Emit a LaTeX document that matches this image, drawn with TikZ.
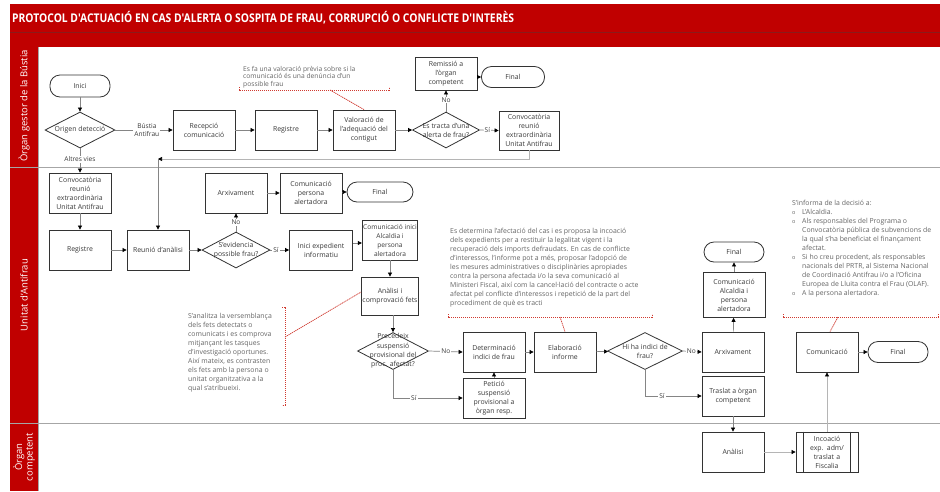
\documentclass[tikz,border=0pt]{standalone}
\usepackage{fontspec}
\setmainfont{Open Sans}
\newfontfamily\titlefont{Open Sans}[FakeStretch=0.86]
\usetikzlibrary{shapes.geometric,arrows.meta,calc}
\definecolor{redband}{HTML}{C00000}
\definecolor{darkred}{HTML}{8A1A1A}
\definecolor{boxc}{HTML}{333333}
\definecolor{txt}{HTML}{3A3A3A}
\definecolor{notec}{HTML}{666666}
\definecolor{connc}{HTML}{858585}
\definecolor{connl}{HTML}{B5B5B5}
\definecolor{lanel}{HTML}{A6A6A6}
\definecolor{dotred}{HTML}{D03A30}
\newcommand\notebul{\makebox[10pt][l]{\fontsize{5.5}{5.5}\selectfont o}}
\newcommand\noteind{\hspace*{10pt}}
\tikzset{
 stepbox/.style={draw=boxc, line width=0.8pt, fill=white, minimum width=62pt, minimum height=40pt, inner sep=1pt, align=center, font=\fontsize{6.9}{9}\selectfont, text=txt},
 termbox/.style={draw=boxc, line width=0.8pt, fill=white, rounded corners=10pt, minimum width=62pt, minimum height=21pt, inner sep=1pt, font=\fontsize{6.9}{9}\selectfont, text=txt},
 decbox/.style={draw=boxc, line width=0.8pt, fill=white, diamond, inner sep=0pt, minimum width=70pt, minimum height=36pt},
 dectext/.style={align=center, font=\fontsize{6.9}{9}\selectfont, text=txt, inner sep=0pt},
 conn/.style={draw=connc, line width=0.7pt, -{Triangle[length=4pt,width=4pt,color=black]}},
 connlight/.style={conn, draw=connl},
 lbl/.style={fill=white, inner sep=1pt, font=\fontsize{6.6}{7.5}\selectfont, text=txt, align=center},
 notetext/.style={align=left, font=\fontsize{6.9}{9}\selectfont, text=notec, inner sep=0pt, anchor=north west},
 notedot/.style={draw=dotred, line width=0.7pt, dash pattern=on 1.3pt off 0.7pt},
 lanetext/.style={rotate=90, text=white, align=center, font=\fontsize{9.5}{10.5}\selectfont},
}
\begin{document}
\begin{tikzpicture}[x=1pt,y=-1pt]
\useasboundingbox (0,0) rectangle (940,491);
\fill[white] (0,0) rectangle (940,491);
% header
\fill[redband] (10,4) rectangle (940,47);
\draw[darkred, line width=0.8pt] (10,32) -- (940,32);
\node[anchor=west, text=white, inner sep=0pt, font=\titlefont\bfseries\fontsize{12}{12}\selectfont] (title) at (12,18) {PROTOCOL D'ACTUACIÓ EN CAS D'ALERTA O SOSPITA DE FRAU, CORRUPCIÓ O CONFLICTE D'INTERÈS};
% lanes
\fill[redband] (10,47) rectangle (38,491);
\draw[lanel, line width=1pt] (10,167) -- (940,167);
\draw[lanel, line width=1pt] (10,423) -- (940,423);
\draw[lanel, line width=0.8pt] (38,47) -- (38,491);
\node[lanetext] (lane1) at (24,106) {Òrgan gestor de la Bústia};
\node[lanetext] (lane2) at (24,295) {Unitat d'Antifrau};
\node[lanetext] (lane3) at (24,457) {Òrgan\\competent};

% ---------- lane 1
\node[termbox, minimum width=60pt, minimum height=22pt] (inici) at (80,86) {Inici};
\node[decbox] (orig) at (80,130) {};
\node[dectext] (origt) at (orig) {Origen detecció};
\node[stepbox] (recep) at (204,130) {Recepció\\comunicació};
\node[stepbox] (reg1) at (286,130) {Registre};
\node[stepbox] (valor) at (364,130) {Valoració de\\l'adequació del\\contigut};
\node[decbox, minimum width=67pt] (trac) at (446,130) {};
\node[dectext] (tract) at (trac) {Es tracta d'una\\alerta de frau?};
\node[stepbox, minimum height=33pt] (remis) at (446,73.5) {Remissió a\\l'òrgan\\competent};
\node[termbox, minimum width=63pt] (final1) at (513,77) {Final};
\node[stepbox, minimum width=60pt, minimum height=39pt] (convoc) at (529,130.5) {Convocatòria\\reunió\\extraordinària\\Unitat Antifrau};

% ---------- lane 2
\node[stepbox] (conv2) at (80,193) {Convocatòria\\reunió\\extraordinària\\Unitat Antifrau};
\node[stepbox] (reg2) at (80,250) {Registre};
\node[stepbox] (reun) at (158,250) {Reunió d'anàlisi};
\node[decbox, minimum width=68pt] (evid) at (236,250) {};
\node[dectext] (evidt) at (evid) {S'evidencia\\possible frau?};
\node[stepbox] (arx1) at (236,193) {Arxivament};
\node[stepbox] (comp) at (311,193) {Comunicació\\persona\\alertadora};
\node[termbox, minimum width=66pt, minimum height=20pt] (final2) at (380,192) {Final};
\node[stepbox, minimum width=63pt] (iniexp) at (321,250) {Inici expedient\\informatiu};
\node[stepbox, minimum width=55pt, font=\fontsize{6.6}{9}\selectfont] (comini) at (390,240) {Comunicació inici\\Alcaldia i\\persona\\alertadora};
\node[stepbox, minimum width=55pt, minimum height=38pt] (anal) at (390,296) {Anàlisi i\\comprovació fets};
\node[decbox, minimum width=71pt, minimum height=37pt] (prec) at (393,351) {};
\node[dectext, font=\fontsize{6.9}{9.3}\selectfont] (prect) at (prec) {Precedeix\\suspensió\\provisional del\\proc. afectat?};
\node[stepbox] (deter) at (494,352) {Determinació\\indici de frau};
\node[stepbox] (petic) at (494,398) {Petició\\suspensió\\provisional a\\òrgan resp.};
\node[stepbox] (elab) at (565,352) {Elaboració\\informe};
\node[decbox, minimum width=75pt, minimum height=37pt] (hiha) at (645,351) {};
\node[dectext] (hihat) at (hiha) {Hi ha indici de\\frau?};
\node[stepbox] (arx2) at (733,352) {Arxivament};
\node[stepbox] (tras) at (733,396) {Traslat a òrgan\\competent};
\node[stepbox, minimum height=45pt] (comalc) at (734,295) {Comunicació\\Alcaldia i\\persona\\alertadora};
\node[termbox, minimum width=60pt, minimum height=20pt] (final3) at (734,252) {Final};
\node[stepbox] (comun) at (827,352) {Comunicació};
\node[termbox, minimum width=60pt] (final4) at (898,352) {Final};

% ---------- lane 3
\node[stepbox] (anal3) at (733,452) {Anàlisi};
\node[stepbox, text width=44pt] (incoa) at (827,452) {Incoació\\exp. adm/\\traslat a\\Fiscalia};
\draw[boxc, line width=0.8pt] ([xshift=8pt]incoa.north west) -- ([xshift=8pt]incoa.south west);
\draw[boxc, line width=0.8pt] ([xshift=-8pt]incoa.north east) -- ([xshift=-8pt]incoa.south east);

% ---------- connectors lane 1
\draw[conn] (inici) -- (orig);
\draw[conn] (orig.east) -- node[lbl, pos=0.55] {Bústia\\Antifrau} (recep.west);
\draw[conn] (recep) -- (reg1);
\draw[conn] (reg1) -- (valor);
\draw[conn] (valor) -- (trac);
\draw[conn] (trac.north) -- node[lbl, pos=0.55] {No} (remis.south);
\draw[conn] (remis.east |- final1.west) -- (final1.west);
\draw[conn] (trac.east) -- node[lbl, pos=0.4] {Sí} (convoc.west);
\coordinate (bend1) at (158,159);
\draw[connlight] (convoc.south) |- (bend1);
\draw[conn] (bend1) -- (reun.north);
\draw[conn] (orig.south) -- node[lbl, pos=0.45] {Altres vies} (conv2.north);

% ---------- connectors lane 2
\draw[conn] (conv2) -- (reg2);
\draw[conn] (reg2) -- (reun);
\draw[conn] (reun) -- (evid);
\draw[conn] (evid.north) -- node[lbl, pos=0.5] {No} (arx1.south);
\draw[conn] (arx1) -- (comp);
\draw[conn] (comp.east |- final2.west) -- (final2.west);
\draw[conn] (evid.east) -- node[lbl, pos=0.3] {Sí} (iniexp.west);
\draw[conn] ([yshift=7pt]iniexp.east) -- ([yshift=7pt]iniexp.east -| comini.west);
\draw[conn] (comini) -- (anal);
\draw[conn] (anal.south -| prec.north) -- (prec.north);
\draw[conn] (prec.east) -- node[lbl, pos=0.5] {No} (deter.west);
\draw[conn] (prec.south) |- node[lbl, pos=0.65] {Sí} (petic.west);
\draw[conn] (petic) -- (deter);
\draw[conn] (deter) -- (elab);
\draw[conn] (elab) -- (hiha);
\draw[conn] (hiha.east) -- node[lbl, pos=0.45] {No} (arx2.west);
\draw[conn] (hiha.south) |- node[lbl, pos=0.65] {Sí} (tras.west);
\draw[conn] (arx2) -- (comalc);
\draw[conn] (comalc) -- (final3);
\draw[conn] (comun) -- (final4);
\draw[conn] (tras) -- (anal3);
\draw[connlight] (anal3) -- (incoa);
\draw[connlight] (incoa) -- (comun);

% ---------- annotations
\node[notetext, font=\fontsize{6.7}{7.4}\selectfont] (n1) at (243,66) {Es fa una valoració prèvia sobre si la\\comunicació és una denúncia d'un\\possible frau};
\draw[notedot] (239,87) -- (239,90) -- (389,90) -- (389,87);
\coordinate (n1c) at (330,90);
\draw[notedot] (n1c) -- (valor.north);

\node[notetext] (n2) at (188,313) {S'analitza la versemblança\\dels fets detectats o\\comunicats i es comprova\\mitjançant les tasques\\d'investigació oportunes.\\Així mateix, es contrasten\\els fets amb la persona o\\unitat organitzativa a la\\qual s'atribueixi.};
\draw[notedot] (282,307) -- (285,307) -- (285,405) -- (282,405);
\coordinate (n2c) at (285,337);
\draw[notedot] (n2c) -- ([yshift=4pt]anal.west);

\node[notetext] (n3) at (450,228) {Es determina l'afectació del cas i es proposa la incoació\\dels expedients per a restituir la legalitat vigent i la\\recuperació dels imports defraudats. En cas de conflicte\\d'interessos, l'informe pot a més, proposar l'adopció de\\les mesures administratives o disciplinàries apropiades\\contra la persona afectada i/o la seva comunicació al\\Ministeri Fiscal, així com la cancel·lació del contracte o acte\\afectat pel conflicte d'interessos i repetició de la part del\\procediment de què es tracti};
\draw[notedot] (448,314) -- (448,317) -- (652,317) -- (652,314);
\coordinate (n3c) at (560,317);
\draw[notedot] (n3c) -- (elab.north);

\node[notetext] (n4) at (792,200) {S'informa de la decisió a:\\
\notebul L'Alcaldia.\\
\notebul Als responsables del Programa o\\
\noteind Convocatòria pública de subvencions de\\
\noteind la qual s'ha beneficiat el finançament\\
\noteind afectat.\\
\notebul Si ho creu procedent, als responsables\\
\noteind nacionals del PRTR, al Sistema Nacional\\
\noteind de Coordinació Antifrau i/o a l'Oficina\\
\noteind Europea de Lluita contra el Frau (OLAF).\\
\notebul A la persona alertadora.};
\draw[notedot] (783,314) -- (783,317) -- (938,317) -- (938,314);
\coordinate (n4c) at (838,317);
\draw[notedot] (n4c) -- ([xshift=3pt]comun.north);
\end{tikzpicture}
\end{document}
